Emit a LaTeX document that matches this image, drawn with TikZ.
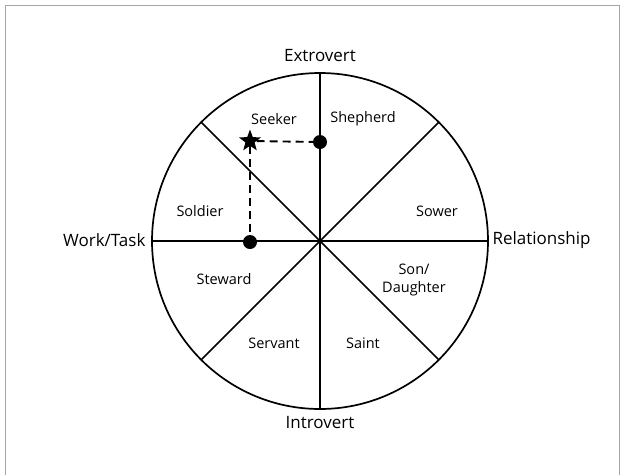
\documentclass[tikz,border=0pt]{standalone}
\usepackage{fontspec}
\setmainfont{Open Sans}
\usetikzlibrary{shapes.geometric}

\begin{document}
\begin{tikzpicture}[x=1pt, y=-1pt,
    axislab/.style={font=\fontsize{17}{19}\selectfont},
    rolelab/.style={font=\fontsize{14.5}{18}\selectfont, align=center},
    dot/.style={circle, fill=black, inner sep=0pt, minimum size=14pt},
    starmark/.style={star, star points=5, star point ratio=2.4, fill=black, inner sep=0pt, minimum size=23pt},
    dashline/.style={line width=1.9pt, dash pattern=on 8pt off 5pt}]
\useasboundingbox (0,0) rectangle (624,475);

% Frame
\draw[gray!70, line width=0.8pt] (5,475) -- (5,5) -- (619,5) -- (619,475);

% Wheel
\coordinate (c) at (320,241);
\draw[line width=1.7pt] (c) circle[radius=168pt];
\foreach \a in {0,45,90,135}
    \draw[line width=1.7pt] (c) ++(\a:168) -- ++(\a+180:336);

% Axis labels
\node[axislab] (extro) at (320,56) {Extrovert};
\node[axislab] (intro) at (320,423) {Introvert};
\node[axislab, anchor=east] (work) at (149,240) {Work/Task};
\node[axislab, anchor=west] (relat) at (489,240) {Relationship};

% Roles
\node[rolelab] (seeker) at (274,119) {Seeker};
\node[rolelab] (shepherd) at (363,119) {Shepherd};
\node[rolelab] (soldier) at (200,211) {Soldier};
\node[rolelab] (sower) at (437,211) {Sower};
\node[rolelab] (steward) at (224,279) {Steward};
\node[rolelab] (son) at (414,280) {Son/\\Daughter};
\node[rolelab] (servant) at (274,343) {Servant};
\node[rolelab] (saint) at (363,343) {Saint};

% Marker and projections
\node[starmark] (mark) at (250,141) {};
\node[dot] (topdot) at (320,142) {};
\node[dot] (leftdot) at (250,242) {};
\draw[dashline] (mark) -- (topdot);
\draw[dashline] (mark) -- (leftdot);
\end{tikzpicture}
\end{document}
